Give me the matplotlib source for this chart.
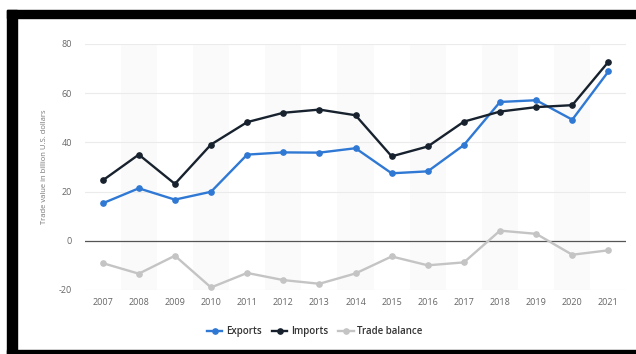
import numpy as np
import matplotlib
matplotlib.use('Agg')
import matplotlib.pyplot as plt
from matplotlib.patches import Rectangle

years = ['2007', '2008', '2009', '2010', '2011', '2012', '2013', '2014',
         '2015', '2016', '2017', '2018', '2019', '2020', '2021']
exports = [15.2, 21.3, 16.7, 19.9, 35.0, 35.9, 35.8, 37.6,
           27.4, 28.2, 38.9, 56.4, 57.1, 49.2, 68.8]
imports = [24.5, 35.0, 23.1, 39.1, 48.2, 52.0, 53.3, 51.0,
           34.3, 38.3, 48.4, 52.5, 54.3, 55.1, 72.7]
balance = [-9.1, -13.4, -6.1, -19.0, -13.1, -16.0, -17.5, -13.3,
           -6.4, -10.0, -8.8, 4.1, 2.8, -5.7, -3.9]
yticks = [-20, 0, 20, 40, 60, 80]

plt.rcParams['font.family'] = ['Open Sans', 'DejaVu Sans']
plt.rcParams['axes.unicode_minus'] = False

fig = plt.figure(figsize=(6.36, 3.54), dpi=100)
ax = fig.add_axes([0.133, 0.181, 0.852, 0.695])

x = np.arange(len(years))

# alternating column shading
for i in x:
    if i % 2 == 1:
        ax.axvspan(i - 0.5, i + 0.5, color='#fafafa', zorder=0, lw=0)

for t in yticks:
    if t == 0:
        ax.axhline(t, color='#555555', lw=0.9, zorder=1)
    else:
        ax.axhline(t, color='#ebebeb', lw=0.8, zorder=1)

ax.plot(x, balance, 'o-', color='#c4c4c4', lw=1.7, markersize=3.8, label='Trade balance', zorder=3)
ax.plot(x, exports, 'o-', color='#2f78d4', lw=1.7, markersize=3.8, label='Exports', zorder=4)
ax.plot(x, imports, 'o-', color='#17222e', lw=1.7, markersize=3.8, label='Imports', zorder=5)

ax.set_xlim(-0.5, len(years) - 0.5)
ax.set_ylim(-20, 80)
ax.set_xticks(x)
ax.set_xticklabels(years)
ax.set_yticks(yticks)
ax.tick_params(axis='both', length=0, labelsize=6.5, colors='#666666')
ax.tick_params(axis='x', pad=6)
ax.tick_params(axis='y', pad=9)
for s in ax.spines.values():
    s.set_visible(False)
ax.set_ylabel('Trade value in billion U.S. dollars', fontsize=5.5, color='#777777', labelpad=8)

handles, labels = ax.get_legend_handles_labels()
order = [1, 2, 0]
ax.legend([handles[i] for i in order], [labels[i] for i in order],
          loc='center', bbox_to_anchor=(0.425, -0.17), ncol=3, frameon=False,
          handlelength=1.6, columnspacing=1.0, handletextpad=0.4,
          prop={'weight': 'semibold', 'size': 7})
for txt in ax.get_legend().get_texts():
    txt.set_color('#333333')

# black frame around the screenshot
fig.patches.append(Rectangle((7 / 636, 0), 10 / 636, 1 - 10 / 354, transform=fig.transFigure,
                             color='black', zorder=10))
fig.patches.append(Rectangle((7 / 636, 1 - 18 / 354), 1, 8 / 354, transform=fig.transFigure,
                             color='black', zorder=10))
fig.patches.append(Rectangle((7 / 636, 0), 1, 4 / 354, transform=fig.transFigure,
                             color='black', zorder=10))

fig.savefig('out.png', dpi=100)
